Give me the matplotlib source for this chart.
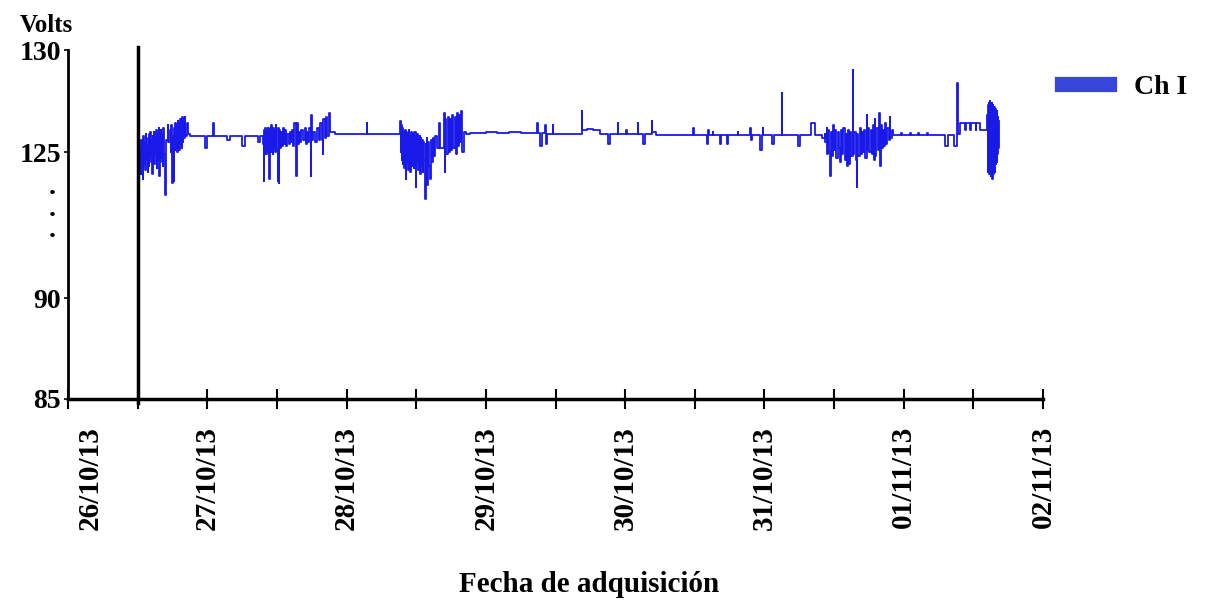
import matplotlib
matplotlib.use('Agg')
import matplotlib.pyplot as plt
from matplotlib.lines import Line2D
import numpy as np
from datetime import datetime, timedelta

# hours after 26/10/13 00:00, volts
block_a = [(12.4, 125.2), (12.5, 123.9), (12.6, 125.6), (12.7, 124.2), (12.8, 125.4), (12.9, 123.7),
           (13.0, 125.8), (13.1, 124.4), (13.2, 125.5), (13.3, 124.1), (13.4, 125.9), (13.5, 124.6),
           (13.6, 125.3), (13.7, 124.0), (13.8, 125.7), (13.9, 124.3), (14.0, 125.9), (14.1, 124.8),
           (14.2, 126.0), (14.3, 124.5), (14.4, 125.6), (14.5, 123.9), (14.6, 125.8), (14.7, 124.7),
           (14.8, 126.0), (14.9, 124.4), (15.0, 125.7), (15.1, 124.9), (15.2, 126.1), (15.3, 124.2),
           (15.4, 125.9), (15.5, 124.6), (15.6, 126.2), (15.7, 123.8), (15.8, 125.7), (15.9, 124.5),
           (16.0, 126.1), (16.1, 124.7), (16.2, 125.9), (16.3, 124.3), (16.4, 126.2), (16.5, 124.9),
           (16.7, 122.9), (16.8, 125.6), (17.2, 126.3), (17.3, 125.5),
           (17.6, 126.1), (17.7, 125.0), (17.8, 126.3), (17.9, 124.9), (18.0, 123.5), (18.1, 125.8),
           (18.2, 123.6), (18.3, 126.2), (18.4, 125.1), (18.5, 126.4), (18.6, 125.2), (18.7, 126.3),
           (18.8, 125.0), (18.9, 126.5), (19.0, 125.3), (19.1, 126.4), (19.2, 125.1), (19.3, 126.6),
           (19.4, 125.4), (19.5, 126.5), (19.6, 125.2), (19.7, 126.7), (19.8, 125.5), (19.9, 126.6),
           (20.0, 125.7), (20.1, 126.7), (20.2, 125.8), (20.5, 126.4), (20.6, 125.9)]

baseline_1 = [(21.0, 125.8), (23.5, 125.8), (23.6, 125.2), (23.9, 125.2), (24.0, 125.8), (24.9, 125.8),
              (25.0, 126.4), (25.1, 125.8), (27.3, 125.8), (27.4, 125.6), (27.8, 125.6), (27.9, 125.8),
              (29.9, 125.8), (30.0, 125.3), (30.4, 125.3), (30.5, 125.8), (32.6, 125.8), (32.7, 125.5),
              (33.0, 125.5), (33.1, 125.8), (33.4, 125.8)]

block_b = [(33.6, 125.4), (33.7, 123.6), (33.8, 126.1), (33.9, 125.0), (34.0, 126.2), (34.1, 124.9),
           (34.2, 126.0), (34.3, 125.1), (34.4, 126.2), (34.5, 124.9), (34.6, 126.1), (34.7, 123.7),
           (34.8, 126.2), (34.9, 125.0), (35.0, 126.3), (35.1, 125.1), (35.2, 126.0), (35.3, 124.9),
           (35.4, 126.2), (35.5, 125.2), (35.6, 126.1), (35.7, 125.0), (35.8, 126.3), (35.9, 125.1),
           (36.1, 123.6), (36.2, 126.2), (36.3, 123.5), (36.4, 126.1), (36.5, 125.2), (36.7, 126.0),
           (36.8, 125.3), (37.0, 126.2), (37.2, 125.4), (37.4, 126.1), (37.6, 125.3), (37.8, 125.9),
           (38.0, 125.4), (38.2, 126.0), (38.4, 125.5), (38.6, 126.1), (38.8, 125.3), (39.0, 126.4),
           (39.3, 123.8), (39.4, 126.4), (39.6, 125.4), (39.8, 126.0), (40.0, 125.5), (40.2, 126.1),
           (40.5, 125.6), (40.8, 126.2), (41.0, 125.4), (41.2, 126.0), (41.4, 125.5), (41.6, 126.2),
           (41.8, 123.8), (41.9, 126.8), (42.0, 125.6), (42.3, 126.0), (42.6, 125.5), (42.9, 126.2),
           (43.2, 125.6), (43.5, 126.4), (43.7, 125.6), (43.9, 124.9), (44.0, 126.6), (44.2, 125.7),
           (44.5, 126.7), (44.7, 125.8), (45.0, 126.9), (45.1, 126.0), (45.5, 126.0)]

baseline_2 = [(46.0, 125.9), (51.4, 125.9), (51.5, 126.4), (51.6, 125.9), (57.0, 125.9)]

block_c = [(57.2, 126.5), (57.3, 125.0), (57.4, 126.3), (57.5, 124.6), (57.6, 126.2), (57.7, 124.4),
           (57.8, 126.0), (57.9, 124.2), (58.0, 126.1), (58.2, 123.7), (58.3, 126.0), (58.4, 124.5),
           (58.5, 125.9), (58.6, 124.1), (58.7, 126.1), (58.8, 124.4), (58.9, 125.8), (59.0, 124.0),
           (59.1, 126.0), (59.2, 124.3), (59.3, 125.7), (59.4, 124.6), (59.5, 125.9), (59.6, 124.2),
           (59.7, 126.0), (59.9, 123.3), (60.0, 125.8), (60.1, 124.5), (60.2, 125.9), (60.3, 124.1),
           (60.4, 125.6), (60.5, 124.4), (60.6, 125.8), (60.7, 123.9), (60.8, 125.7), (60.9, 124.3),
           (61.0, 125.6), (61.1, 124.0), (61.2, 125.5), (61.3, 124.6), (61.5, 122.7), (61.6, 125.4),
           (61.7, 124.2), (61.8, 125.7), (61.9, 123.4), (62.0, 125.5), (62.2, 124.3), (62.4, 123.7),
           (62.5, 125.6), (62.7, 124.5), (62.9, 125.7), (63.1, 124.8), (63.3, 125.8), (63.5, 125.2),
           (63.8, 125.2), (64.0, 126.4), (64.1, 125.2), (64.5, 125.2), (64.8, 126.9), (64.9, 124.0),
           (65.0, 126.6), (65.2, 124.9), (65.4, 126.7), (65.6, 125.0), (65.8, 126.6), (66.0, 125.1),
           (66.2, 126.8), (66.4, 125.2), (66.6, 126.7), (66.8, 124.9), (67.0, 126.9), (67.2, 125.3),
           (67.4, 126.8), (67.6, 125.5), (67.8, 127.0), (67.9, 125.0), (68.2, 126.0), (68.6, 125.9)]

baseline_3 = [(69.2, 125.95), (72.0, 126.0), (74.0, 125.95), (76.0, 126.0), (78.0, 125.95),
              (80.7, 125.95), (80.8, 126.4), (80.9, 125.95),
              (81.2, 125.95), (81.3, 125.3), (81.5, 125.3), (81.6, 125.95), (82.1, 125.95), (82.2, 126.3),
              (82.3, 125.4), (82.5, 125.4), (82.6, 125.9), (83.4, 125.9), (83.5, 126.3), (83.6, 125.9),
              (88.4, 125.9), (88.5, 127.0), (88.6, 126.1), (89.5, 126.15), (90.5, 126.1), (91.6, 126.1),
              (91.7, 125.9), (92.9, 125.9), (93.0, 125.4), (93.3, 125.4), (93.4, 125.9), (94.6, 125.9),
              (94.7, 126.4), (94.8, 125.9), (96.0, 125.9), (96.1, 126.1), (96.3, 126.1), (96.4, 125.9),
              (98.1, 125.9), (98.2, 126.4), (98.3, 125.9), (98.9, 125.9), (99.0, 125.4), (99.3, 125.4),
              (99.4, 125.9), (100.5, 125.9), (100.6, 126.5), (100.7, 126.0), (101.3, 126.0), (101.4, 125.85),
              (107.6, 125.85), (107.7, 126.2), (107.8, 125.85), (110.0, 125.85), (110.1, 125.4), (110.3, 126.1),
              (110.4, 125.85), (111.0, 125.85), (111.1, 126.0), (111.2, 125.85), (112.2, 125.85), (112.3, 125.4),
              (112.5, 125.4), (112.6, 125.85), (113.4, 125.85), (113.5, 125.4), (113.7, 125.4), (113.8, 125.85),
              (115.3, 125.85), (115.4, 126.0), (115.5, 125.85), (117.4, 125.85), (117.5, 126.2), (117.6, 125.6),
              (117.8, 125.85), (119.1, 125.85), (119.2, 125.1), (119.4, 125.1), (119.6, 125.85), (119.7, 126.2),
              (119.8, 125.85), (121.2, 125.85), (121.3, 125.4), (121.6, 125.4), (121.7, 125.85), (122.9, 125.85),
              (123.0, 127.9), (123.1, 125.85), (125.6, 125.85), (125.7, 125.3), (126.1, 125.3), (126.2, 125.85),
              (128.0, 125.85), (128.1, 126.4), (128.6, 126.4), (128.7, 125.85), (129.9, 125.85), (130.0, 125.7),
              (130.3, 125.7)]

block_e = [(130.4, 125.9), (130.5, 125.5), (130.7, 126.2), (130.8, 124.9), (130.9, 126.1), (131.1, 125.0),
           (131.3, 123.8), (131.4, 126.0), (131.6, 124.8), (131.8, 126.3), (132.0, 125.1), (132.2, 126.1),
           (132.4, 124.7), (132.6, 126.0), (132.8, 125.2), (133.0, 124.5), (133.2, 126.1), (133.4, 124.9),
           (133.6, 126.2), (133.8, 124.6), (134.0, 125.9), (134.2, 124.3), (134.4, 126.1), (134.6, 124.4),
           (134.8, 126.0), (135.0, 124.8), (135.2, 129.0), (135.3, 124.9), (135.5, 126.0), (135.7, 124.6),
           (135.9, 123.3), (136.0, 125.9), (136.2, 124.8), (136.4, 126.2), (136.6, 124.9), (136.8, 126.0),
           (137.0, 125.0), (137.2, 126.1), (137.4, 124.7), (137.6, 126.8), (137.7, 125.1), (137.9, 126.2),
           (138.1, 125.0), (138.3, 126.1), (138.5, 124.9), (138.7, 126.3), (138.9, 124.6), (139.0, 126.6),
           (139.1, 124.8), (139.3, 126.2), (139.5, 125.1), (139.7, 126.9), (139.9, 124.3), (140.0, 126.3),
           (140.2, 125.2), (140.4, 126.1), (140.6, 125.3), (140.8, 126.4), (141.0, 125.4), (141.2, 126.2),
           (141.4, 125.6), (141.6, 126.7), (141.7, 125.7), (141.9, 126.1)]

baseline_4 = [(142.1, 125.85), (143.5, 125.95), (143.7, 125.85), (145.0, 125.95), (145.2, 125.85),
              (146.5, 125.95), (146.7, 125.85), (148.0, 125.95), (148.2, 125.85), (151.0, 125.85),
              (151.1, 125.3), (151.5, 125.3), (151.6, 125.85), (152.6, 125.85), (152.7, 125.3), (153.0, 125.3),
              (153.1, 125.85), (153.2, 128.4), (153.3, 125.9), (153.6, 125.9), (153.7, 126.4), (154.5, 126.4),
              (154.6, 126.1), (154.7, 126.4), (155.4, 126.4), (155.5, 126.1), (155.6, 126.4), (156.3, 126.4),
              (156.4, 126.1), (156.5, 126.4), (157.1, 126.4), (157.2, 126.1), (158.3, 126.1)]

block_f = [(158.4, 126.8), (158.45, 124.5), (158.5, 127.2), (158.55, 124.0), (158.6, 127.3), (158.65, 124.2),
           (158.7, 127.4), (158.75, 123.9), (158.8, 127.3), (158.85, 124.3), (158.9, 127.5), (158.95, 124.0),
           (159.0, 127.4), (159.05, 123.8), (159.1, 127.3), (159.15, 124.1), (159.2, 127.4), (159.25, 123.7),
           (159.3, 127.2), (159.35, 124.0), (159.4, 127.3), (159.45, 123.9), (159.5, 127.1), (159.55, 124.2),
           (159.6, 127.2), (159.65, 124.0), (159.7, 127.0), (159.75, 124.3), (159.8, 127.1), (159.85, 124.4),
           (159.9, 126.9), (159.95, 124.6), (160.0, 127.0), (160.05, 124.5), (160.1, 126.8), (160.15, 124.9),
           (160.2, 126.7), (160.3, 125.2), (160.4, 126.5)]

day_labels = ['26/10/13', '27/10/13', '28/10/13', '29/10/13', '30/10/13', '31/10/13', '01/11/13', '02/11/13']
y_ticks = [85, 90, 125, 130]

start = datetime(2013, 10, 26)
segments = [block_a, baseline_1, block_b, baseline_2, block_c, baseline_3, block_e, baseline_4, block_f]
times = [start + timedelta(hours=h) for seg in segments for h, v in seg]
volts = [v for seg in segments for h, v in seg]

plt.rcParams['font.family'] = ['Liberation Serif', 'DejaVu Serif']
plt.rcParams['font.weight'] = 'bold'

fig = plt.figure(figsize=(12.05, 6.04), dpi=100)
ax = fig.add_axes([68 / 1205, 1 - 399 / 604, 975 / 1205, 349 / 604])

ax.plot(times, volts, color='#1a1ae8', lw=1.3, drawstyle='steps-post')

# broken y scale: 85-90 and 120-130 stretched, 90-120 squeezed
v_nodes = [85, 90, 120, 130]
p_nodes = [0, 101, 145, 349]
ax.set_yscale('function', functions=(lambda v: np.interp(v, v_nodes, p_nodes),
                                      lambda p: np.interp(p, p_nodes, v_nodes)))
ax.set_ylim(85, 130)
ax.set_yticks(y_ticks)
ax.set_yticklabels([str(t) for t in y_ticks])
# vertical dots marking the axis break
ax.text(-0.0164, 0.544, '.\n.\n.', transform=ax.transAxes, ha='center', va='center',
        fontsize=20, linespacing=0.81)

days = [start + timedelta(days=i) for i in range(8)]
halfs = [start + timedelta(days=i, hours=12) for i in range(7)]
ax.set_xlim(days[0], days[-1])
ax.set_xticks(days)
ax.set_xticklabels([''] + day_labels[1:])
ax.set_xticks(halfs, minor=True)
ax.tick_params(axis='x', which='both', direction='inout', length=15, width=1.5, pad=12,
               labelsize=21, labelrotation=90)
ax.tick_params(axis='y', direction='out', length=3, width=1.2, pad=2, labelsize=20)
ax.annotate(day_labels[0], xy=(start + timedelta(hours=3.8), 0), xycoords=('data', 'axes fraction'),
            xytext=(0, -19.5), textcoords='offset points', rotation=90, ha='center', va='top',
            fontsize=21)

ax.spines['top'].set_visible(False)
ax.spines['right'].set_visible(False)
ax.spines['left'].set_linewidth(2)
ax.spines['bottom'].set_linewidth(2.5)

ax.axvline(start + timedelta(hours=12), ymin=-0.011, ymax=1.009, color='black', lw=2.5, clip_on=False)

fig.text(46 / 1205, 1 - 25 / 604, 'Volts', ha='center', va='center', fontsize=18)
fig.text(589 / 1205, 1 - 585 / 604, 'Fecha de adquisición', ha='center', va='center', fontsize=21)

handle = Line2D([], [], color='#3546d8', lw=11)
fig.legend([handle], ['Ch I'], loc='center left', bbox_to_anchor=(1062 / 1205, 1 - 87 / 604),
           frameon=False, handlelength=1.7, handletextpad=0.9, borderpad=0, borderaxespad=0,
           prop={'size': 20, 'weight': 'bold'})

fig.savefig('out.png', dpi=100)
